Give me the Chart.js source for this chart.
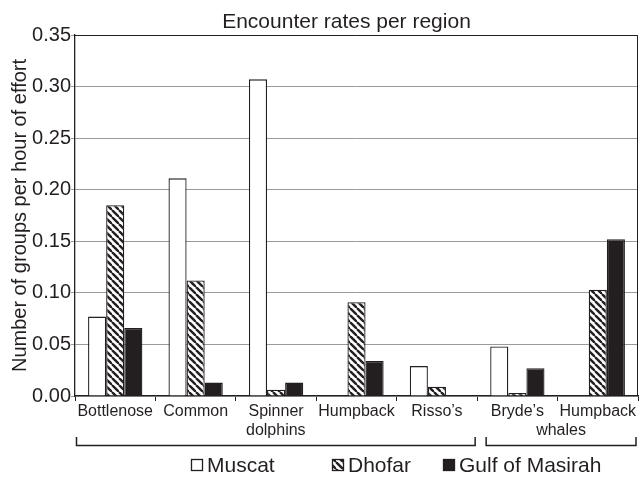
<!DOCTYPE html>
<html>
<head>
<meta charset="utf-8">
<script src="https://cdn.jsdelivr.net/npm/chart.js@4/dist/chart.umd.min.js"></script>
<style>
  html, body { margin: 0; padding: 0; background: #fff; }
  #wrap { width: 640px; height: 488px; }
</style>
</head>
<body>
<div id="wrap"><canvas id="chart" width="640" height="488"></canvas></div>
<script>
// Categories and values
const species = ['Bottlenose', 'Common', 'Spinner', 'Humpback', 'Risso\u2019s', 'Bryde\u2019s', 'Humpback'];
const groups = [
    { label: 'dolphins', from: 0, to: 4 },
    { label: 'whales', from: 5, to: 6 }
];
const muscat = [0.077, 0.211, 0.307, 0, 0.029, 0.048, 0];
const dhofar = [0.185, 0.112, 0.006, 0.091, 0.009, 0.003, 0.103];
const gulfOfMasirah = [0.066, 0.013, 0.013, 0.034, 0, 0.027, 0.152];
const yTicks = [0, 0.05, 0.10, 0.15, 0.20, 0.25, 0.30, 0.35];

const ink = '#231f20';
const font = 'Liberation Sans, Arial, Helvetica, sans-serif';

// Motif hachuré pour Dhofar (diagonales "\")
function makeHatch() {
    const s = 7;
    const c = document.createElement('canvas');
    c.width = s; c.height = s;
    const g = c.getContext('2d');
    g.fillStyle = '#fff';
    g.fillRect(0, 0, s, s);
    g.strokeStyle = ink;
    g.lineWidth = 2.4;
    for (let k = -1; k <= 1; k++) {
        g.beginPath();
        g.moveTo(k * s, 0);
        g.lineTo(k * s + s, s);
        g.stroke();
    }
    return g.createPattern(c, 'repeat');
}
const hatch = makeHatch();

// Titre, cadre, accolades des groupes et légende
const decorations = {
    id: 'decorations',
    afterDraw(chart) {
        const { ctx, chartArea: a, scales } = chart;
        const x = scales.x;
        ctx.save();

        // cadre haut + droite
        ctx.strokeStyle = ink;
        ctx.lineWidth = 1;
        ctx.beginPath();
        ctx.moveTo(a.left, a.top + 0.5);
        ctx.lineTo(a.right - 0.5, a.top + 0.5);
        ctx.lineTo(a.right - 0.5, a.bottom);
        ctx.stroke();

        // titre
        ctx.fillStyle = ink;
        ctx.font = '21px ' + font;
        ctx.textAlign = 'center';
        ctx.textBaseline = 'alphabetic';
        ctx.fillText('Encounter rates per region', (a.left + a.right) / 2 - 10, 28);

        // accolades
        const half = (x.getPixelForValue(1) - x.getPixelForValue(0)) / 2;
        const yLine = 445.5, yTop = 437;
        ctx.lineWidth = 1.5;
        ctx.font = '16px ' + font;
        ctx.textBaseline = 'middle';
        groups.forEach((gr, i) => {
            const l = x.getPixelForValue(gr.from) - half + (i === 0 ? 1.5 : 9);
            const r = x.getPixelForValue(gr.to) + half - 2;
            ctx.beginPath();
            ctx.moveTo(l, yTop);
            ctx.lineTo(l, yLine);
            ctx.lineTo(r, yLine);
            ctx.lineTo(r, yTop);
            ctx.stroke();
            ctx.fillText(gr.label, (l + r) / 2, 431);
        });

        // légende
        const legendX = [191, 332, 443];
        ctx.font = '21px ' + font;
        ctx.textAlign = 'left';
        chart.data.datasets.forEach((ds, i) => {
            const bx = legendX[i], by = 459;
            ctx.fillStyle = ds.backgroundColor;
            ctx.fillRect(bx, by, 12, 12);
            ctx.lineWidth = 1.3;
            ctx.strokeStyle = ink;
            ctx.strokeRect(bx + 0.5, by + 0.5, 11, 11);
            ctx.fillStyle = ink;
            ctx.fillText(ds.label, bx + 16, by + 7);
        });
        ctx.restore();
    }
};

const barStyle = {
    borderColor: ink,
    borderWidth: 1.3,
    borderSkipped: 'bottom',
    categoryPercentage: 0.675,
    barPercentage: 1.0
};

new Chart(document.getElementById('chart'), {
    type: 'bar',
    data: {
        labels: species,
        datasets: [
            { label: 'Muscat', data: muscat, backgroundColor: '#ffffff', ...barStyle },
            { label: 'Dhofar', data: dhofar, backgroundColor: hatch, ...barStyle },
            { label: 'Gulf of Masirah', data: gulfOfMasirah, backgroundColor: ink, ...barStyle }
        ]
    },
    options: {
        responsive: false,
        animation: false,
        layout: { padding: { top: 35, right: 2, left: 0, bottom: 0 } },
        plugins: {
            legend: { display: false },
            title: { display: false },
            tooltip: { enabled: false }
        },
        scales: {
            x: {
                afterFit: (s) => { s.height = 92; },
                grid: {
                    offset: true,
                    drawOnChartArea: false,
                    tickLength: 5,
                    color: ink
                },
                border: { color: ink, width: 1.3 },
                ticks: {
                    color: ink,
                    font: { family: font, size: 16 },
                    padding: 1,
                    maxRotation: 0,
                    autoSkip: false
                }
            },
            y: {
                min: 0,
                max: 0.35,
                afterFit: (s) => { s.width = 75; },
                afterBuildTicks: (s) => { s.ticks = yTicks.map(v => ({ value: v })); },
                grid: { color: '#9a9a9a', lineWidth: 1, tickLength: 4 },
                border: { color: ink, width: 1.3 },
                ticks: {
                    color: ink,
                    font: { family: font, size: 20 },
                    padding: 0,
                    callback: (v) => v.toFixed(2)
                },
                title: {
                    display: true,
                    text: 'Number of groups per hour of effort',
                    color: ink,
                    font: { family: font, size: 20 },
                    padding: { top: 8, bottom: 0 }
                }
            }
        }
    },
    plugins: [decorations]
});
</script>
</body>
</html>
